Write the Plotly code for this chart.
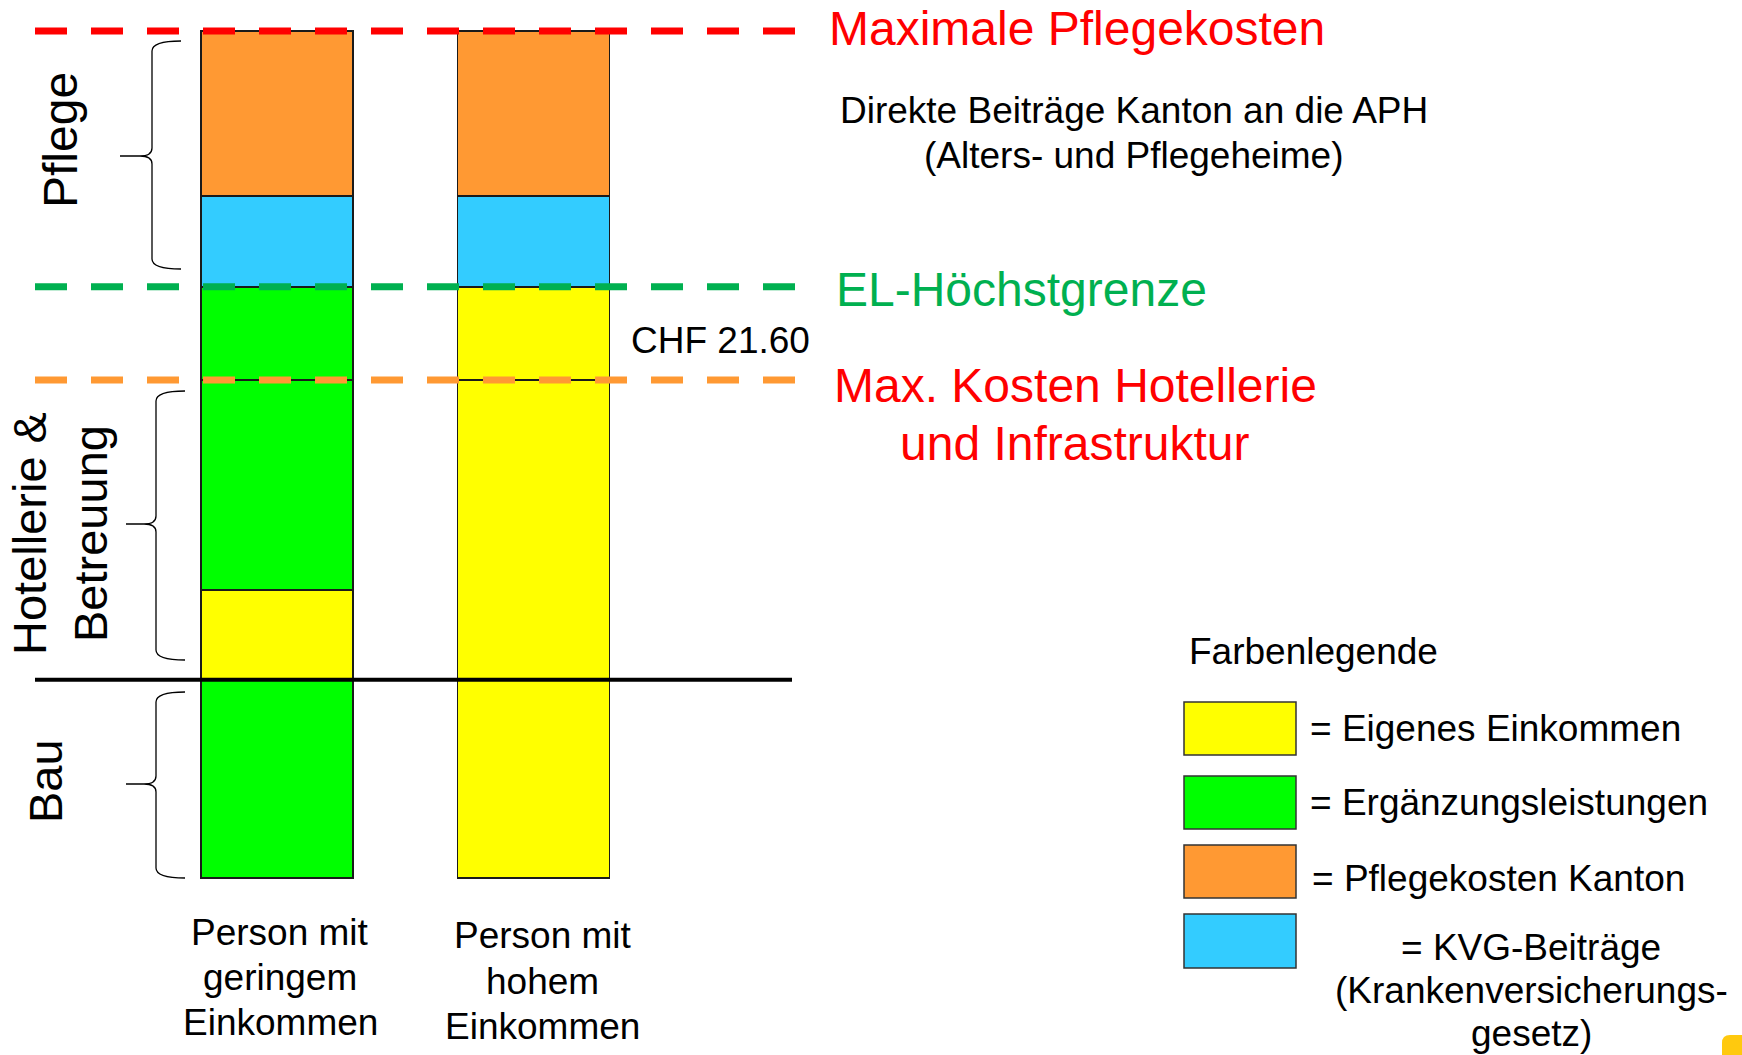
import plotly.graph_objects as go

# ---------------- data ----------------
categories = ["Person mit geringem Einkommen", "Person mit hohem Einkommen"]
category_labels = ["Person mit<br>geringem<br>Einkommen", "Person mit<br>hohem<br>Einkommen"]

segments = ["Bau", "Hotellerie & Betreuung (Eigenanteil)", "Hotellerie & Betreuung (EL)",
            "Bis EL-Höchstgrenze", "Pflege: KVG", "Pflege: Kanton"]
values_low = [23.4, 10.6, 24.8, 11.0, 10.7, 19.5]
values_high = [23.4, 35.4, 0.0, 11.0, 10.7, 19.5]
payer_low = ["EL", "Eigen", "EL", "EL", "KVG", "Kanton"]
payer_high = ["Eigen", "Eigen", "EL", "Eigen", "KVG", "Kanton"]

legend_keys = ["Eigen", "EL", "Kanton", "KVG"]
legend_labels = ["= Eigenes Einkommen", "= Ergänzungsleistungen", "= Pflegekosten Kanton",
                 "= KVG-Beiträge<br>(Krankenversicherungs-<br>gesetz)"]
legend_title = "Farbenlegende"

ref_levels = [100.0, 69.8, 58.8]
ref_labels = ["Maximale Pflegekosten", "EL-Höchstgrenze", "Max. Kosten Hotellerie<br>und Infrastruktur"]
ref_line_colors = ["#FF0000", "#00B050", "#FF9933"]
ref_text_colors = ["#FF0000", "#00B050", "#FF0000"]
bau_level = 23.4

group_labels = ["Pflege", "Hotellerie &<br>Betreuung", "Bau"]
note_kanton = "Direkte Beiträge Kanton an die APH<br>(Alters- und Pflegeheime)"
note_chf = "CHF 21.60"

colors = {"Eigen": "#FFFF00", "EL": "#00FF00", "Kanton": "#FF9933", "KVG": "#33CCFF"}

# ---------------- layout geometry ----------------
W, H = 1742, 1055
FONT = "Liberation Sans, Arial, sans-serif"
PXY = 8.47          # pixels per value unit
Y0 = 878            # pixel row of value 0
PXX = 256.5         # pixels per category step
X0 = 277            # pixel column of first category
BAR_W = 152 / PXX


def px(x):
    return x / W


def py(y):
    return 1 - y / H


fig = go.Figure()
for i, seg in enumerate(segments):
    fig.add_trace(go.Bar(
        x=[0, 1], y=[values_low[i], values_high[i]], name=seg, width=BAR_W,
        marker=dict(color=[colors[payer_low[i]], colors[payer_high[i]]],
                    line=dict(color="#1a1a1a", width=1.5)),
        showlegend=False, hoverinfo="skip"))

shapes = []
for lvl, c in zip(ref_levels, ref_line_colors):
    shapes.append(dict(type="line", xref="paper", yref="y", x0=px(35), x1=px(795), y0=lvl, y1=lvl,
                       line=dict(color=c, width=7, dash="32px,24px")))
shapes.append(dict(type="line", xref="paper", yref="y", x0=px(35), x1=px(792), y0=bau_level, y1=bau_level,
                   line=dict(color="#000000", width=4)))


def brace(tip_x, v_x, end_x, top, tip_y, bottom):
    pts = [
        f"M {px(end_x)},{py(top)}",
        f"Q {px(v_x)},{py(top)} {px(v_x)},{py(top + 10)}",
        f"L {px(v_x)},{py(tip_y - 8)}",
        f"Q {px(v_x)},{py(tip_y)} {px(v_x - 12)},{py(tip_y)}",
        f"L {px(tip_x)},{py(tip_y)}",
        f"L {px(v_x - 12)},{py(tip_y)}",
        f"Q {px(v_x)},{py(tip_y)} {px(v_x)},{py(tip_y + 8)}",
        f"L {px(v_x)},{py(bottom - 10)}",
        f"Q {px(v_x)},{py(bottom)} {px(end_x)},{py(bottom)}",
    ]
    return dict(type="path", xref="paper", yref="paper", path=" ".join(pts),
                line=dict(color="#000000", width=1.3))


shapes.append(brace(120, 152, 181, 41, 156, 269))
shapes.append(brace(126, 156, 185, 391, 524, 660))
shapes.append(brace(126, 156, 185, 692, 784, 878))

sw_y = [(702, 755), (776, 829), (845, 898), (914, 968)]
for k, (a, b) in zip(legend_keys, sw_y):
    shapes.append(dict(type="rect", xref="paper", yref="paper", x0=px(1184), x1=px(1296),
                       y0=py(b), y1=py(a), fillcolor=colors[k], line=dict(color="#333333", width=1.5)))

shapes.append(dict(type="path", xref="paper", yref="paper",
                   path=f"M {px(1722)},{py(1055)} L {px(1722)},{py(1043)} Q {px(1722)},{py(1035)} {px(1730)},{py(1035)} "
                        f"L {px(1742)},{py(1035)} L {px(1742)},{py(1055)} Z",
                   fillcolor="#FFC90E", line=dict(width=0)))

ann = []


def txt(text, x, y, size, color="#000000", xanchor="center", angle=0):
    ann.append(dict(text=text, x=px(x), y=py(y), xref="paper", yref="paper", showarrow=False,
                    xanchor=xanchor, yanchor="middle", textangle=angle, align="center",
                    font=dict(family=FONT, size=size, color=color)))


def txt_lines(text, x, y_first, spacing, size, color="#000000", xanchor="center"):
    for j, line in enumerate(text.split("<br>")):
        txt(line, x, y_first + j * spacing, size, color, xanchor)


txt(ref_labels[0], 827, 28, 48, ref_text_colors[0], "left")
txt(ref_labels[1], 834, 289, 48, ref_text_colors[1], "left")
txt_lines(ref_labels[2], 1075, 385, 58, 48, ref_text_colors[2])
txt_lines(note_kanton, 1134, 111, 45, 37)
txt(note_chf, 720, 340, 37)

txt(group_labels[0], 60, 140, 48, angle=-90)
txt(group_labels[1], 60, 533, 47, angle=-90)
txt(group_labels[2], 45, 781, 47, angle=-90)

for i, lab in enumerate(category_labels):
    for j, line in enumerate(lab.split("<br>")):
        ann.append(dict(text=line, x=i, y=py([932, 936][i] + j * 45), xref="x", yref="paper",
                        xshift=[3, 9][i], showarrow=False, xanchor="center", yanchor="middle",
                        font=dict(family=FONT, size=37, color="#000000")))

txt(legend_title, 1187, 651, 37, xanchor="left")
txt(legend_labels[0], 1308, 728, 37, xanchor="left")
txt(legend_labels[1], 1308, 802, 37, xanchor="left")
txt(legend_labels[2], 1310, 878, 37, xanchor="left")
txt_lines(legend_labels[3], 1531, 947, 43, 37)

fig.update_layout(
    width=W, height=H, margin=dict(l=0, r=0, t=0, b=0),
    paper_bgcolor="#FFFFFF", plot_bgcolor="#FFFFFF",
    barmode="stack", showlegend=False,
    xaxis=dict(range=[-X0 / PXX, (W - X0) / PXX], visible=False, fixedrange=True),
    yaxis=dict(range=[-(H - Y0) / PXY, Y0 / PXY], visible=False, fixedrange=True),
    shapes=shapes, annotations=ann,
)

fig.write_html("out.html", config={"displayModeBar": False},
               post_script="document.body.style.margin='0';document.body.style.overflow='hidden';")
